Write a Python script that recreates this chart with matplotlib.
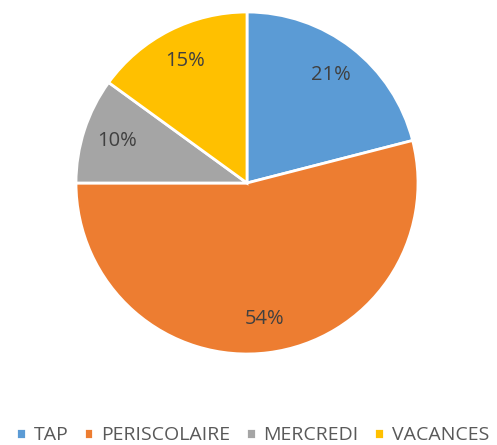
import matplotlib.pyplot as plt

# parts of the activities (percent)
categories = ['TAP', 'PERISCOLAIRE', 'MERCREDI', 'VACANCES']
values = [21, 54, 10, 15]
colors = ['#5B9BD5', '#ED7D31', '#A5A5A5', '#FFC000']

plt.rcParams['font.family'] = ['Open Sans', 'DejaVu Sans']

W, H = 497, 445
fig = plt.figure(figsize=(W / 100, H / 100), dpi=100)
cx, cy, r = 247, 183, 171
ax = fig.add_axes([(cx - r) / W, (H - cy - r) / H, 2 * r / W, 2 * r / H])

wedges, texts, autotexts = ax.pie(
    values, colors=colors, startangle=90, counterclock=False,
    autopct='%d%%', pctdistance=0.8,
    wedgeprops=dict(edgecolor='white', linewidth=2),
    textprops=dict(color='#404040', fontsize=14.5))
ax.set_xlim(-1, 1)
ax.set_ylim(-1, 1)
ax.set_aspect('equal')

leg = fig.legend(wedges, categories, loc='center', ncol=4,
                 bbox_to_anchor=(0.508, 1 - 435 / H), frameon=False,
                 handlelength=0.5, handleheight=0.5, handletextpad=0.4,
                 columnspacing=0.8, fontsize=14, labelcolor='#595959')

fig.savefig('out.png', dpi=100)
